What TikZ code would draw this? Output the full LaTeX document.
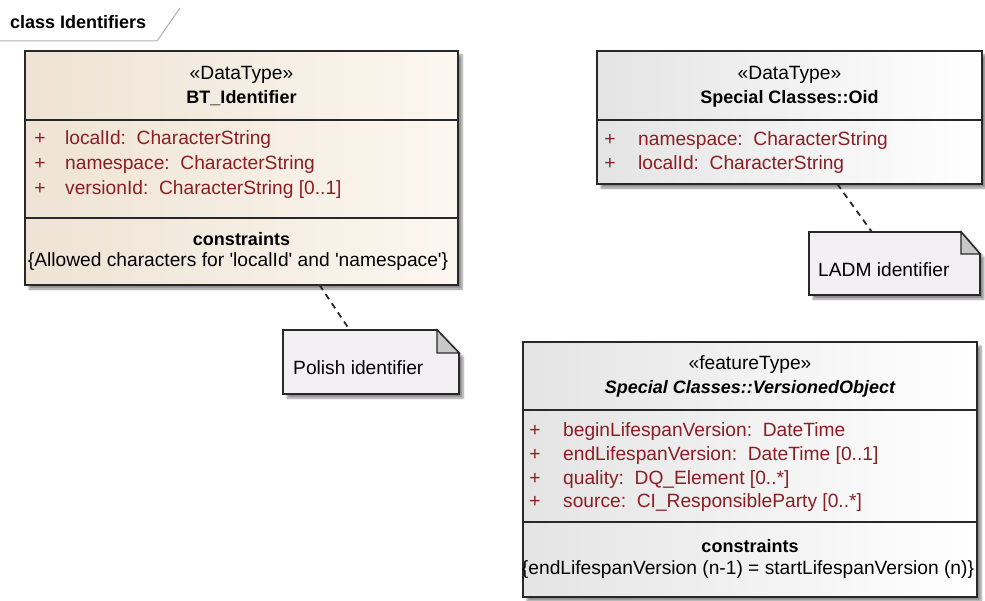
\documentclass[tikz,border=0pt]{standalone}
\usepackage{fontspec}
\setmainfont{Liberation Sans}
\usetikzlibrary{shadows.blur}

\definecolor{attr}{RGB}{140,30,35}
\definecolor{edge}{RGB}{40,40,40}
\definecolor{beigeL}{RGB}{238,227,212}
\definecolor{beigeR}{RGB}{252,247,240}
\definecolor{greyL}{RGB}{228,228,228}
\definecolor{notefill}{RGB}{243,240,243}
\definecolor{foldfill}{RGB}{200,200,200}
\definecolor{tabline}{RGB}{175,175,175}

\begin{document}
\begin{tikzpicture}[x=1pt,y=-1pt,
  font=\fontsize{19.2}{23}\selectfont,
  boxshadow/.style={blur shadow={shadow xshift=4pt, shadow yshift=-4pt,
      shadow blur steps=6, shadow opacity=45}},
  classbox/.style={draw=edge, line width=1.8pt, rectangle, inner sep=0pt,
      outer sep=0pt, anchor=north west, boxshadow},
  beigebox/.style={classbox, left color=beigeL, right color=beigeR},
  greybox/.style={classbox, left color=greyL, right color=white},
  divider/.style={draw=edge, line width=1.8pt},
  notebox/.style={rectangle, inner sep=0pt, outer sep=0pt, anchor=north west},
  noteline/.style={draw=edge, line width=1.8pt, line join=miter, fill=notefill},
  foldline/.style={draw=edge, line width=1.2pt, fill=foldfill},
  link/.style={draw=edge, line width=1.8pt, dash pattern=on 6pt off 5pt},
  txt/.style={inner sep=0pt, anchor=base},
  lefttxt/.style={inner sep=0pt, anchor=base west},
  attrtxt/.style={lefttxt, text=attr},
  plus/.style={inner sep=0pt, anchor=base, text=attr},
  title/.style={txt, font=\fontsize{18}{22}\selectfont\bfseries},
  ititle/.style={txt, font=\fontsize{18}{22}\selectfont\bfseries\itshape},
]
\useasboundingbox (0,0) rectangle (985,601);

% diagram frame tab
\draw[tabline, line width=1pt] (0,41) -- (157,41) -- (180,8);
\node[lefttxt, font=\fontsize{18}{22}\selectfont\bfseries] (frame) at (10,29) {class Identifiers};

% ---------- BT_Identifier ----------
\node[beigebox, minimum width=433, minimum height=234] (bt) at (25,51) {};
\draw[divider] (25,120) -- (458,120);
\draw[divider] (25,218) -- (458,218);
\node[txt] (btst) at (241.5,80) {«DataType»};
\node[title] (btname) at (241.5,104) {BT\_Identifier};
\node[plus] (btp1) at (40,145) {+};
\node[plus] (btp2) at (40,170) {+};
\node[plus] (btp3) at (40,195) {+};
\node[attrtxt] (bta1) at (65,145) {localId:\ \ CharacterString};
\node[attrtxt] (bta2) at (65,170) {namespace:\ \ CharacterString};
\node[attrtxt] (bta3) at (65,195) {versionId:\ \ CharacterString [0..1]};
\node[title] (btch) at (241.5,246) {constraints};
\node[txt] (btc1) at (238,267) {\{Allowed characters for \textquotesingle localId\textquotesingle\ and \textquotesingle namespace\textquotesingle\}};

% ---------- Special Classes::Oid ----------
\node[greybox, minimum width=385, minimum height=133] (oid) at (597,51) {};
\draw[divider] (597,120) -- (982,120);
\node[txt] (oidst) at (789.5,80) {«DataType»};
\node[title] (oidname) at (789.5,104) {Special Classes::Oid};
\node[plus] (oidp1) at (610,146) {+};
\node[plus] (oidp2) at (610,170) {+};
\node[attrtxt] (oida1) at (638,146) {namespace:\ \ CharacterString};
\node[attrtxt] (oida2) at (638,170) {localId:\ \ CharacterString};

% ---------- Special Classes::VersionedObject ----------
\node[greybox, minimum width=454, minimum height=255] (vo) at (523,342) {};
\draw[divider] (523,410) -- (977,410);
\draw[divider] (523,522) -- (977,522);
\node[txt] (vost) at (750,370) {«featureType»};
\node[ititle] (voname) at (750,394) {Special Classes::VersionedObject};
\node[plus] (vop1) at (535,436) {+};
\node[plus] (vop2) at (535,460) {+};
\node[plus] (vop3) at (535,484) {+};
\node[plus] (vop4) at (535,507) {+};
\node[attrtxt] (voa1) at (563,436) {beginLifespanVersion:\ \ DateTime};
\node[attrtxt] (voa2) at (563,460) {endLifespanVersion:\ \ DateTime [0..1]};
\node[attrtxt] (voa3) at (563,484) {quality:\ \ DQ\_Element [0..*]};
\node[attrtxt] (voa4) at (563,507) {source:\ \ CI\_ResponsibleParty [0..*]};
\node[title] (voch) at (750,552) {constraints};
\node[txt] (voc1) at (748,574) {\{endLifespanVersion (n-1) = startLifespanVersion (n)\}};

% ---------- notes ----------
\node[notebox, minimum width=176, minimum height=64] (polish) at (283,330) {};
\draw[noteline, boxshadow] (polish.north west) -- ([xshift=-22pt]polish.north east)
  -- ([yshift=-23pt]polish.north east) -- (polish.south east)
  -- (polish.south west) -- cycle;
\draw[foldline] ([xshift=-22pt]polish.north east) -- ([xshift=-22pt,yshift=-23pt]polish.north east)
  -- ([yshift=-23pt]polish.north east) -- cycle;
\node[lefttxt] (polishtxt) at (293,374) {Polish identifier};

\node[notebox, minimum width=171, minimum height=63] (ladm) at (809,232) {};
\draw[noteline, boxshadow] (ladm.north west) -- ([xshift=-19pt]ladm.north east)
  -- ([yshift=-22pt]ladm.north east) -- (ladm.south east)
  -- (ladm.south west) -- cycle;
\draw[foldline] ([xshift=-19pt]ladm.north east) -- ([xshift=-19pt,yshift=-22pt]ladm.north east)
  -- ([yshift=-22pt]ladm.north east) -- cycle;
\node[lefttxt] (ladmtxt) at (818,277) {LADM identifier};

% ---------- note links ----------
\draw[link] (bt) -- (polish);
\draw[link] (oid) -- (ladm);
\end{tikzpicture}
\end{document}
